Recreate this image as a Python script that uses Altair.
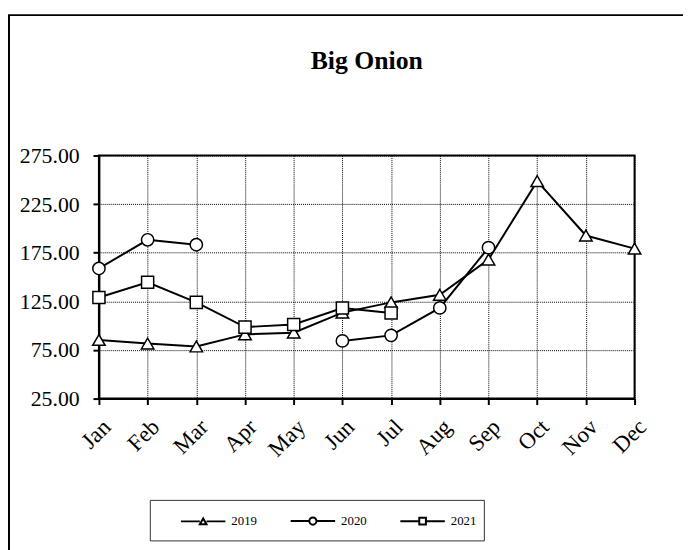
import altair as alt
import pandas as pd

months = ["Jan", "Feb", "Mar", "Apr", "May", "Jun", "Jul", "Aug", "Sep", "Oct", "Nov", "Dec"]
series = ["2019", "2020", "2021"]
v2019 = [85.3, 81.6, 78.6, 91.0, 92.8, 113.4, 123.9, 131.7, 168.0, 248.6, 192.7, 179.2]
v2020 = [158.8, 188.3, 183.2, None, None, 84.3, 90.0, 118.2, 180.2, None, None, None]
v2021 = [129.0, 144.6, 123.9, 98.5, 101.2, 118.2, 113.0, None, None, None, None, None]
y_ticks = [25, 75, 125, 175, 225, 275]

rows = []
for name, vals in zip(series, [v2019, v2020, v2021]):
    seg = 0
    for m, v in zip(months, vals):
        if v is None:
            seg += 1
            continue
        rows.append({"month": m, "series": name, "value": v, "seg": f"{name}-{seg}"})
df = pd.DataFrame(rows)

FONT = "Liberation Serif"

x_enc = alt.X("month:O", sort=months, scale=alt.Scale(domain=months, padding=0),
              axis=alt.Axis(title=None, labelAngle=-45, labelFont=FONT, labelFontSize=23,
                            labelColor="black", domainColor="black", domainWidth=2,
                            tickColor="black", tickWidth=2, tickSize=6,
                            grid=True, gridColor="black", gridDash=[1, 1], gridWidth=1,
                            labelPadding=11))
y_enc = alt.Y("value:Q", scale=alt.Scale(domain=[25, 275], nice=False, zero=False),
              axis=alt.Axis(title=None, values=y_ticks, format=".2f", labelFont=FONT,
                            labelFontSize=22, labelColor="black", domainColor="black",
                            domainWidth=2, tickColor="black", tickWidth=2, tickSize=6,
                            grid=True, gridColor="black", gridDash=[1, 1], gridWidth=1,
                            labelPadding=14))

base = alt.Chart(df)

lines = base.mark_line(color="black", strokeWidth=2).encode(
    x=x_enc, y=y_enc, detail="seg:N"
)

points = base.mark_point(filled=True, fill="white", stroke="black", strokeWidth=1.5, opacity=1).encode(
    x=x_enc, y=y_enc,
    shape=alt.Shape("series:N", scale=alt.Scale(domain=series, range=["triangle-up", "circle", "square"]), legend=None),
    size=alt.Size("series:N", scale=alt.Scale(domain=series, range=[160, 150, 60]), legend=None),
)

legend_paths = [
    "M-1,0H-0.15M0.15,0H1M0,-0.13L0.15,0.13L-0.15,0.13Z",
    "M-1,0H-0.16M0.16,0H1M-0.16,0A0.16,0.16,0,1,1,0.16,0A0.16,0.16,0,1,1,-0.16,0Z",
    "M-1,0H-0.15M0.15,0H1M-0.15,-0.15H0.15V0.15H-0.15Z",
]

legend_box = alt.Chart(alt.Data(values=[{}])).mark_rect(
    fill="white", stroke="#333333", strokeWidth=1
).encode(x=alt.value(52), x2=alt.value(390), y=alt.value(349), y2=alt.value(390))

legend_layer = base.transform_filter("false").mark_point(
    filled=False, stroke="black", strokeWidth=2
).encode(
    x=x_enc, y=y_enc,
    shape=alt.Shape("series:N", scale=alt.Scale(domain=series, range=legend_paths),
                    legend=alt.Legend(title=None, orient="none", legendX=82, legendY=346,
                                      direction="horizontal", symbolSize=2025,
                                      symbolStrokeWidth=2, symbolStrokeColor="black",
                                      symbolFillColor="white", symbolOpacity=1,
                                      labelFont=FONT, labelFontSize=13, labelColor="black",
                                      labelOffset=5, columnPadding=30, padding=0)),
)

outer = alt.Chart(alt.Data(values=[{}])).mark_rect(
    fill=None, stroke="black", strokeWidth=2
).encode(x=alt.value(-91), x2=alt.value(720), y=alt.value(-142), y2=alt.value(460))

chart = alt.layer(outer, lines, points, legend_box, legend_layer).resolve_scale(
    shape="independent"
).properties(
    width=542, height=246,
    title=alt.TitleParams("Big Onion", font=FONT, fontSize=26, fontWeight="bold",
                          color="black", anchor="middle", offset=-61),
    autosize=alt.AutoSizeParams(type="none"),
    padding={"left": 92, "top": 146, "right": 49, "bottom": 150},
).configure_view(stroke="black", strokeWidth=2)

chart.save("out.html", embed_options={"renderer": "svg", "actions": False})
